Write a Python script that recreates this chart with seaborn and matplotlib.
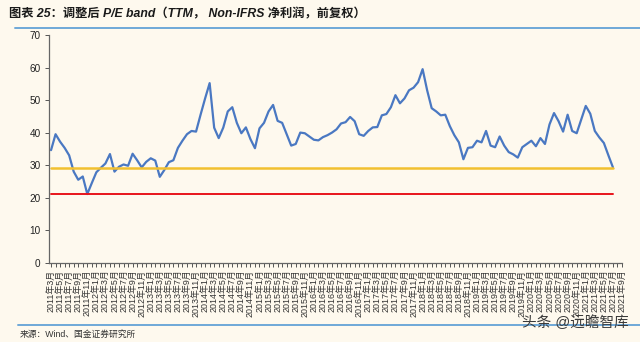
import matplotlib
matplotlib.use("Agg")
import matplotlib.pyplot as plt
import seaborn as sns
import pandas as pd
import numpy as np
from matplotlib.lines import Line2D

# ---- data ----
start_year, start_month = 2011, 3
pe_values = [
    34.6, 39.5, 37.2, 35.3, 33.0, 28.0, 25.5, 26.5, 21.1, 24.5,
    27.8, 29.2, 30.5, 33.4, 28.0, 29.5, 30.2, 29.8, 33.5, 31.5,
    29.3, 31.0, 32.1, 31.4, 26.4, 28.5, 30.9, 31.5, 35.3, 37.5,
    39.5, 40.5, 40.3, 45.5, 50.5, 55.2, 41.5, 38.3, 41.5, 46.5,
    47.8, 43.0, 39.8, 41.6, 38.0, 35.2, 41.3, 43.0, 46.5, 48.5,
    43.6, 43.0, 39.5, 36.0, 36.5, 40.0, 39.8, 38.8, 37.8, 37.6,
    38.6, 39.2, 40.0, 41.0, 42.8, 43.2, 44.8, 43.5, 39.5, 39.0,
    40.5, 41.6, 41.7, 45.3, 45.7, 47.8, 51.5, 49.0, 50.5, 53.0,
    53.8, 55.5, 59.5, 53.0, 47.5, 46.5, 45.3, 45.5, 42.0, 39.2,
    37.0, 31.8, 35.3, 35.5, 37.5, 37.0, 40.5, 36.0, 35.5, 38.8,
    36.0, 34.0, 33.3, 32.3, 35.5, 36.5, 37.5, 35.8, 38.3, 36.5,
    42.5, 46.0, 43.5, 40.3, 45.5, 40.5, 39.8, 44.0, 48.2, 45.8,
    40.5, 38.5, 36.8, 33.0, 29.3,
]
current_pe = 29.1
low_pe = 21.0
n_label_months = 127  # 2011年3月 .. 2021年9月

def month_label(i):
    tot = start_month - 1 + i
    return f"{start_year + tot // 12}年{tot % 12 + 1}月"

df = pd.DataFrame({
    "idx": np.arange(len(pe_values)),
    "pe": pe_values,
    "current": [current_pe] * len(pe_values),
    "low": [low_pe] * len(pe_values),
})

# ---- style ----
bg = "#FEF9EE"
sns.set_theme(style="white")
plt.rcParams["font.family"] = ["Liberation Sans", "Noto Sans CJK SC", "DejaVu Sans"]

fig = plt.figure(figsize=(6.4, 3.42), dpi=100, facecolor=bg)
ax = fig.add_axes([49 / 640, 1 - 262.7 / 342, (622 - 49) / 640, (262.7 - 35) / 342])
ax.set_facecolor(bg)

sns.lineplot(data=df, x="idx", y="pe", ax=ax, color="#4A78C2", linewidth=1.6)
sns.lineplot(data=df, x="idx", y="current", ax=ax, color="#F2C02F", linewidth=1.8)
sns.lineplot(data=df, x="idx", y="low", ax=ax, color="#E8141B", linewidth=1.4)

ax.set_xlim(-0.45, n_label_months - 1)
ax.set_ylim(0, 70)
ax.set_yticks(range(0, 71, 10))
ax.set_yticklabels([str(v) for v in range(0, 71, 10)], fontsize=7.2, color="#222222")
major = list(range(0, n_label_months, 2))
ax.set_xticks(major)
ax.set_xticklabels([month_label(i) for i in major], rotation=90, fontsize=6.4,
                   color="#333333")
ax.set_xticks(range(0, n_label_months), minor=True)
ax.tick_params(axis="x", which="both", direction="out", length=3, width=0.7,
               color="#555555", pad=2, bottom=True)
ax.tick_params(axis="y", direction="out", length=3, width=0.7, color="#555555",
               pad=3, left=True)
ax.set_xlabel("")
ax.set_ylabel("")
for s in ["top", "right"]:
    ax.spines[s].set_visible(False)
for s in ["left", "bottom"]:
    ax.spines[s].set_color("#666666")
    ax.spines[s].set_linewidth(0.9)

# title and frame lines
fig.text(9 / 640, 1 - 14 / 342, "图表 25：调整后 P/E band（TTM， Non-IFRS 净利润，前复权）",
         fontsize=8.8, fontweight="bold", fontstyle="italic", color="#1a1a1a",
         va="center", ha="left")
fig.add_artist(Line2D([15 / 640, 1], [1 - 27.5 / 342] * 2, color="#6FA8D8",
                      linewidth=1.4, transform=fig.transFigure))
fig.add_artist(Line2D([18 / 640, 1], [1 - 325 / 342] * 2, color="#6FA8D8",
                      linewidth=1.4, transform=fig.transFigure))
fig.text(20 / 640, 1 - 334 / 342, "来源：Wind、国金证券研究所", fontsize=6.3,
         color="#333333", va="center", ha="left")
fig.text(629 / 640, 1 - 323 / 342, "头条 @远瞻智库", fontsize=10.5,
         color="#3a3a3a", va="center", ha="right")

fig.savefig("out.png", dpi=100, facecolor=bg)
